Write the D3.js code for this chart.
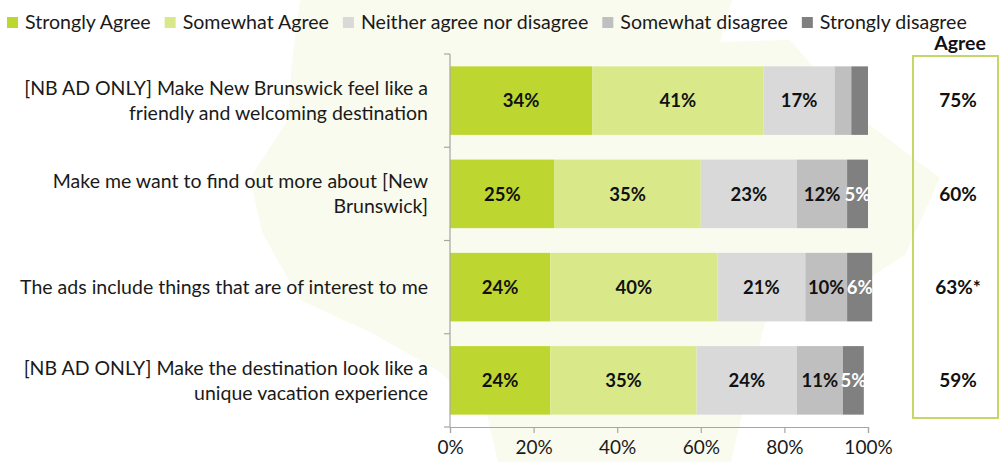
<!DOCTYPE html>
<html>
<head>
<meta charset="utf-8">
<script src="https://cdn.jsdelivr.net/npm/d3@7"></script>
<style>
  html, body { margin: 0; padding: 0; background: #ffffff; }
  svg { display: block; font-family: Lato, "Noto Sans", sans-serif; }
</style>
</head>
<body>
<svg id="chart" width="999" height="462"></svg>
<script>
// Statements (each label may wrap onto two lines)
const statements = [
  ["[NB AD ONLY] Make New Brunswick feel like a", "friendly and welcoming destination"],
  ["Make me want to find out more about [New", "Brunswick]"],
  ["The ads include things that are of interest to me"],
  ["[NB AD ONLY] Make the destination look like a", "unique vacation experience"]
];
const responseLevels = ["Strongly Agree", "Somewhat Agree", "Neither agree nor disagree", "Somewhat disagree", "Strongly disagree"];
const stronglyAgree    = [34, 25, 24, 24];
const somewhatAgree    = [41, 35, 40, 35];
const neither          = [17, 23, 21, 24];
const somewhatDisagree = [4, 12, 10, 11];
const stronglyDisagree = [4, 5, 6, 5];
const agreeTotals      = ["75%", "60%", "63%*", "59%"];
const xTicks           = [0, 20, 40, 60, 80, 100];

const levelColors = ["#bed730", "#d9e98a", "#d9d9d9", "#bfbfbf", "#808080"];
const labelColors = ["#111", "#111", "#111", "#111", "#ffffff"];

const series = [stronglyAgree, somewhatAgree, neither, somewhatDisagree, stronglyDisagree];
const rows = statements.map((s, i) => {
  let acc = 0;
  const segs = series.map((arr, k) => {
    const seg = { level: k, value: arr[i], x0: acc, x1: acc + arr[i] };
    acc += arr[i];
    return seg;
  });
  return { id: i, lines: s, segs, agree: agreeTotals[i] };
});

const svg = d3.select("#chart");

// faint map-shaped watermark behind the chart
const wm = [[300,0],[732,0],[720,42],[790,40],[850,110],[940,178],[905,255],[835,300],[765,322],
            [742,415],[731,462],[498,462],[487,415],[440,372],[372,333],[300,300],[262,232],
            [250,178],[288,120],[292,62]];
svg.append("path")
  .attr("d", d3.line()(wm) + "Z")
  .attr("fill", "#f9fbee");

const x = d3.scaleLinear().domain([0, 100]).range([450, 868]);
const y = d3.scaleBand().domain(rows.map(r => r.id)).range([54, 427])
  .paddingInner(0.265).paddingOuter(0.1325);

const axisColor = "#a6a6a6";

// stacked bars
const rowG = svg.append("g").selectAll("g").data(rows).join("g")
  .attr("transform", d => `translate(0,${y(d.id)})`);

rowG.selectAll("rect").data(d => d.segs).join("rect")
  .attr("x", d => x(d.x0))
  .attr("width", d => x(d.x1) - x(d.x0))
  .attr("y", 0)
  .attr("height", y.bandwidth())
  .attr("fill", d => levelColors[d.level]);

rowG.selectAll("text.val").data(d => d.segs.filter(s => s.value >= 5)).join("text")
  .attr("class", "val")
  .attr("x", d => x((d.x0 + d.x1) / 2))
  .attr("y", y.bandwidth() / 2)
  .attr("dy", "0.36em")
  .attr("text-anchor", "middle")
  .attr("font-size", 18.5)
  .attr("font-weight", "bold")
  .attr("fill", d => labelColors[d.level])
  .text(d => d.value + "%");

// left axis line with band separators
const yEdges = [y.range()[0]].concat(rows.map(r => y(r.id) + y.bandwidth() + y.step() * y.paddingInner() / 2));
svg.append("line")
  .attr("x1", x(0)).attr("x2", x(0))
  .attr("y1", y.range()[0]).attr("y2", y.range()[1])
  .attr("stroke", axisColor).attr("stroke-width", 1.2);
svg.append("g").selectAll("line").data(yEdges).join("line")
  .attr("x1", x(0) - 6).attr("x2", x(0))
  .attr("y1", d => d).attr("y2", d => d)
  .attr("stroke", axisColor).attr("stroke-width", 1.2);

// statement labels
const lab = svg.append("g").selectAll("text").data(rows).join("text")
  .attr("text-anchor", "end")
  .attr("font-size", 19.5)
  .attr("fill", "#1a1a1a");
lab.each(function(d) {
  const t = d3.select(this);
  const cy = y(d.id) + y.bandwidth() / 2;
  const lh = 25;
  const top = cy - (d.lines.length - 1) * lh / 2;
  d.lines.forEach((ln, i) => {
    t.append("tspan").attr("x", 428).attr("y", top + i * lh).attr("dy", "0.35em").text(ln);
  });
});

// bottom axis
const xAxis = svg.append("g")
  .attr("transform", `translate(0,${y.range()[1]})`)
  .call(d3.axisBottom(x).tickValues(xTicks).tickSize(6).tickPadding(8).tickFormat(d => d + "%"));
xAxis.select(".domain").attr("stroke", axisColor).attr("stroke-width", 1.2);
xAxis.selectAll(".tick line").attr("stroke", axisColor).attr("stroke-width", 1.2);
xAxis.selectAll(".tick text").attr("font-size", 19).attr("fill", "#1a1a1a")
  .attr("font-family", "Lato, 'Noto Sans', sans-serif");

// "Agree" summary column
const boxX = 913, boxW = 85;
svg.append("rect")
  .attr("x", boxX).attr("y", 56).attr("width", boxW).attr("height", 362)
  .attr("fill", "none").attr("stroke", "#c4d86a").attr("stroke-width", 2);
svg.append("text")
  .attr("x", 960).attr("y", 50)
  .attr("text-anchor", "middle").attr("font-size", 19.5).attr("font-weight", "bold")
  .attr("fill", "#111").text("Agree");
svg.append("g").selectAll("text").data(rows).join("text")
  .attr("x", 958)
  .attr("y", d => y(d.id) + y.bandwidth() / 2)
  .attr("dy", "0.36em")
  .attr("text-anchor", "middle").attr("font-size", 19).attr("font-weight", "bold")
  .attr("fill", "#111")
  .text(d => d.agree);

// legend
const leg = svg.append("g").attr("transform", "translate(7,0)");
let lx = 0;
responseLevels.forEach((name, k) => {
  leg.append("rect").attr("x", lx).attr("y", 17).attr("width", 11).attr("height", 11)
    .attr("fill", levelColors[k]);
  const t = leg.append("text").attr("x", lx + 18).attr("y", 29)
    .attr("font-size", 19.6).attr("fill", "#1a1a1a").text(name);
  lx += 18 + t.node().getComputedTextLength() + 14;
});
</script>
</body>
</html>
